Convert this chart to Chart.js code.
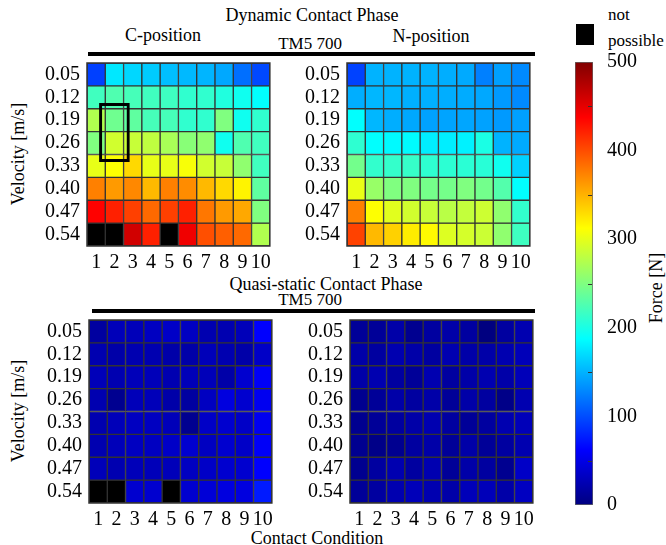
<!DOCTYPE html>
<html>
<head>
<meta charset="utf-8">
<script src="https://cdn.jsdelivr.net/npm/chart.js@4.4.1/dist/chart.umd.min.js"></script>
<style>
  body { margin: 0; background: #fff; }
  #wrap { position: relative; width: 666px; height: 545px; font-family: "Liberation Serif", serif; color: #000; overflow: hidden; }
  #wrap canvas { position: absolute; }
  .t { position: absolute; white-space: nowrap; transform: translate(-50%, -50%); font-size: 18px; line-height: 1; }
  .l { position: absolute; white-space: nowrap; font-size: 17px; line-height: 1; }
  .rot { transform: translate(-50%, -50%) rotate(-90deg); }
  .rule { position: absolute; background: #000; height: 4px; }
</style>
</head>
<body>
<div id="wrap">
  <div class="t" style="left:312px;top:15px">Dynamic Contact Phase</div>
  <div class="t" style="left:163px;top:35px">C-position</div>
  <div class="t" style="left:431px;top:36px">N-position</div>
  <div class="t" style="left:310px;top:43px;font-size:17px">TM5 700</div>
  <div class="rule" style="left:88px;top:52px;width:447px"></div>

  <div class="t" style="left:326px;top:284px">Quasi-static Contact Phase</div>
  <div class="t" style="left:310px;top:299px;font-size:17px">TM5 700</div>
  <div class="rule" style="left:92px;top:309px;width:443px"></div>

  <div class="t" style="left:317px;top:538px">Contact Condition</div>
  <div class="t rot" style="left:18px;top:154px">Velocity [m/s]</div>
  <div class="t rot" style="left:18px;top:411px">Velocity [m/s]</div>
  <div class="t rot" style="left:656px;top:288px">Force [N]</div>

  <div style="position:absolute;left:576px;top:24px;width:18px;height:21px;background:#000"></div>
  <div class="l" style="left:608px;top:6px">not</div>
  <div class="l" style="left:608px;top:32px">possible</div>

  <canvas id="dynC" width="239" height="219" style="left:37px;top:59px"></canvas>
  <canvas id="dynN" width="239" height="219" style="left:297px;top:59px"></canvas>
  <canvas id="quasiC" width="239" height="219" style="left:39px;top:316px"></canvas>
  <canvas id="quasiN" width="239" height="219" style="left:300px;top:316px"></canvas>
  <canvas id="colorbar" width="63" height="467" style="left:575px;top:50px"></canvas>
</div>

<script>
// categories
const conditions = ["1", "2", "3", "4", "5", "6", "7", "8", "9", "10"];
const velocities = ["0.05", "0.12", "0.19", "0.26", "0.33", "0.40", "0.47", "0.54"];
const forceTicks = [0, 100, 200, 300, 400, 500];
const forceMinorTicks = [50, 150, 250, 350, 450];
const forceMax = 500;

// force [N] per velocity row (0.05 first), per contact condition; null = not possible
const dynamicC = [
  [94, 176, 168, 162, 156, 153, 151, 145, 117, 98],
  [219, 226, 222, 219, 218, 211, 211, 203, 195, 188],
  [274, 242, 234, 222, 222, 211, 211, 250, 195, 211],
  [250, 290, 285, 281, 270, 254, 258, 195, 226, 219],
  [301, 312, 331, 301, 301, 309, 290, 285, 258, 219],
  [375, 362, 371, 347, 375, 369, 347, 331, 318, 234],
  [437, 422, 406, 386, 406, 422, 379, 362, 355, 250],
  [null, null, 460, 422, null, 445, 399, 391, 386, 274]
];
const dynamicN = [
  [95, 150, 150, 150, 150, 148, 146, 125, 141, 130],
  [148, 152, 152, 149, 149, 148, 147, 145, 138, 130],
  [188, 152, 148, 145, 142, 143, 144, 142, 138, 141],
  [210, 188, 185, 186, 179, 179, 181, 200, 150, 146],
  [244, 212, 213, 214, 210, 209, 208, 207, 195, 165],
  [302, 262, 250, 250, 245, 245, 250, 244, 228, 188],
  [375, 312, 298, 290, 285, 278, 283, 288, 258, 212],
  [405, 347, 335, 322, 315, 296, 292, 287, 258, 218]
];
const quasiC = [
  [16, 28, 28, 32, 35, 32, 24, 24, 28, 62],
  [24, 20, 24, 24, 20, 20, 28, 24, 20, 35],
  [28, 24, 28, 28, 24, 28, 28, 20, 39, 59],
  [24, 8, 28, 28, 20, 16, 32, 47, 39, 55],
  [24, 28, 32, 32, 28, 8, 35, 39, 35, 55],
  [24, 28, 32, 32, 35, 39, 32, 39, 35, 59],
  [28, 24, 28, 28, 28, 32, 35, 39, 39, 62],
  [null, null, 39, 39, null, 39, 43, 47, 47, 75]
];
const quasiN = [
  [12, 12, 20, 8, 16, 20, 16, 0, 16, 24],
  [20, 16, 24, 20, 16, 24, 20, 20, 24, 28],
  [20, 24, 16, 12, 24, 16, 20, 24, 20, 28],
  [8, 12, 20, 16, 20, 12, 20, 16, 4, 24],
  [8, 12, 16, 20, 24, 16, 12, 16, 24, 28],
  [8, 4, 8, 16, 20, 12, 20, 12, 16, 24],
  [8, 16, 24, 16, 24, 12, 20, 16, 8, 35],
  [12, 16, 24, 28, 24, 20, 28, 28, 20, 32]
];

// highlighted cells in the C-position plot (condition 2, rows 0.19 to 0.26)
const highlightCondition = "2";
const highlightRows = [1.25, 3.83];

Chart.defaults.font.family = "'Liberation Serif', serif";
Chart.defaults.color = "#000";

function jet(v) {
  const t = Math.min(1, Math.max(0, v / forceMax));
  const c = (x) => Math.round(255 * Math.min(1, Math.max(0, 1.5 - Math.abs(4 * t - x))));
  return "rgb(" + c(3) + "," + c(2) + "," + c(1) + ")";
}

// y labels sit inside the plot, so drop the extra label padding chart.js adds
function noEdgePadding(s) {
  s.paddingTop = 0;
  s.paddingBottom = 0;
}

const frame = {
  id: "frame",
  afterDatasetsDraw(chart) {
    const a = chart.chartArea;
    const ctx = chart.ctx;
    ctx.save();
    ctx.strokeStyle = "#333";
    ctx.lineWidth = 1.5;
    ctx.strokeRect(a.left, a.top, a.right - a.left, a.bottom - a.top);
    ctx.restore();
  }
};

// short ticks on the inner right edge of the colour bar
const innerTicks = {
  id: "innerTicks",
  afterDatasetsDraw(chart) {
    const ys = chart.scales.y;
    const a = chart.chartArea;
    const ctx = chart.ctx;
    ctx.save();
    ctx.strokeStyle = "#333";
    ctx.lineWidth = 1;
    forceMinorTicks.forEach((v) => {
      const y = Math.round(ys.getPixelForValue(v)) + 0.5;
      ctx.beginPath();
      ctx.moveTo(a.right - 5, y);
      ctx.lineTo(a.right - 1, y);
      ctx.stroke();
    });
    ctx.restore();
  }
};

function heatmap(id, rows, highlight) {
  const datasets = rows.map((row, r) => ({
    data: row.map(() => [r - 0.5, r + 0.5]),
    backgroundColor: row.map((v) => (v === null ? "#000" : jet(v))),
    borderColor: "#333",
    borderWidth: 1,
    borderSkipped: false,
    barPercentage: 1,
    categoryPercentage: 1,
    grouped: false,
    order: 1
  }));
  if (highlight) {
    datasets.push({
      data: conditions.map((c) => (c === highlightCondition ? highlightRows : null)),
      backgroundColor: "rgba(0,0,0,0)",
      borderColor: "#000",
      borderWidth: 3,
      borderSkipped: false,
      barPercentage: 1.68,
      categoryPercentage: 1,
      grouped: false,
      order: 0
    });
  }
  new Chart(document.getElementById(id), {
    type: "bar",
    data: { labels: conditions, datasets: datasets },
    options: {
      responsive: false,
      animation: false,
      layout: { padding: { top: 4, right: 6, bottom: 0, left: 0 } },
      plugins: { legend: { display: false }, tooltip: { enabled: false } },
      scales: {
        x: {
          grid: { display: false, drawTicks: false },
          border: { display: false },
          ticks: { font: { size: 20 }, padding: 5, autoSkip: false, maxRotation: 0, minRotation: 0 },
          afterFit: (s) => { s.height = 32; }
        },
        y: {
          type: "linear",
          reverse: true,
          min: -0.5,
          max: velocities.length - 0.5,
          afterBuildTicks: (s) => { s.ticks = velocities.map((v, i) => ({ value: i })); },
          grid: { display: false, drawTicks: false },
          border: { display: false },
          ticks: { font: { size: 20 }, padding: 7, autoSkip: false, callback: (v) => velocities[v] },
          afterFit: (s) => { s.width = 50; noEdgePadding(s); }
        }
      }
    },
    plugins: [frame]
  });
}

heatmap("dynC", dynamicC, true);
heatmap("dynN", dynamicN, false);
heatmap("quasiC", quasiC, false);
heatmap("quasiN", quasiN, false);

// colour bar
new Chart(document.getElementById("colorbar"), {
  type: "bar",
  data: {
    labels: [""],
    datasets: [{
      data: [[0, forceMax]],
      backgroundColor: (ctx) => {
        const ch = ctx.chart;
        const ys = ch.scales.y;
        if (!ch.chartArea || !ys) return "#000";
        const g = ch.ctx.createLinearGradient(0, ys.getPixelForValue(0), 0, ys.getPixelForValue(forceMax));
        for (let i = 0; i <= 8; i++) g.addColorStop(i / 8, jet(forceMax * i / 8));
        return g;
      },
      borderColor: "#666",
      borderWidth: 1,
      borderSkipped: false,
      barPercentage: 1,
      categoryPercentage: 1
    }]
  },
  options: {
    responsive: false,
    animation: false,
    layout: { padding: { top: 12, right: 0, bottom: 12, left: 0 } },
    plugins: { legend: { display: false }, tooltip: { enabled: false } },
    scales: {
      x: { display: false },
      y: {
        position: "right",
        min: 0,
        max: forceMax,
        afterBuildTicks: (s) => { s.ticks = forceTicks.map((v) => ({ value: v })); },
        grid: { display: false, drawTicks: false },
        border: { display: false },
        ticks: { font: { size: 20 }, padding: 14 },
        afterFit: (s) => { s.width = 45; noEdgePadding(s); }
      }
    }
  },
  plugins: [innerTicks]
});
</script>
</body>
</html>
